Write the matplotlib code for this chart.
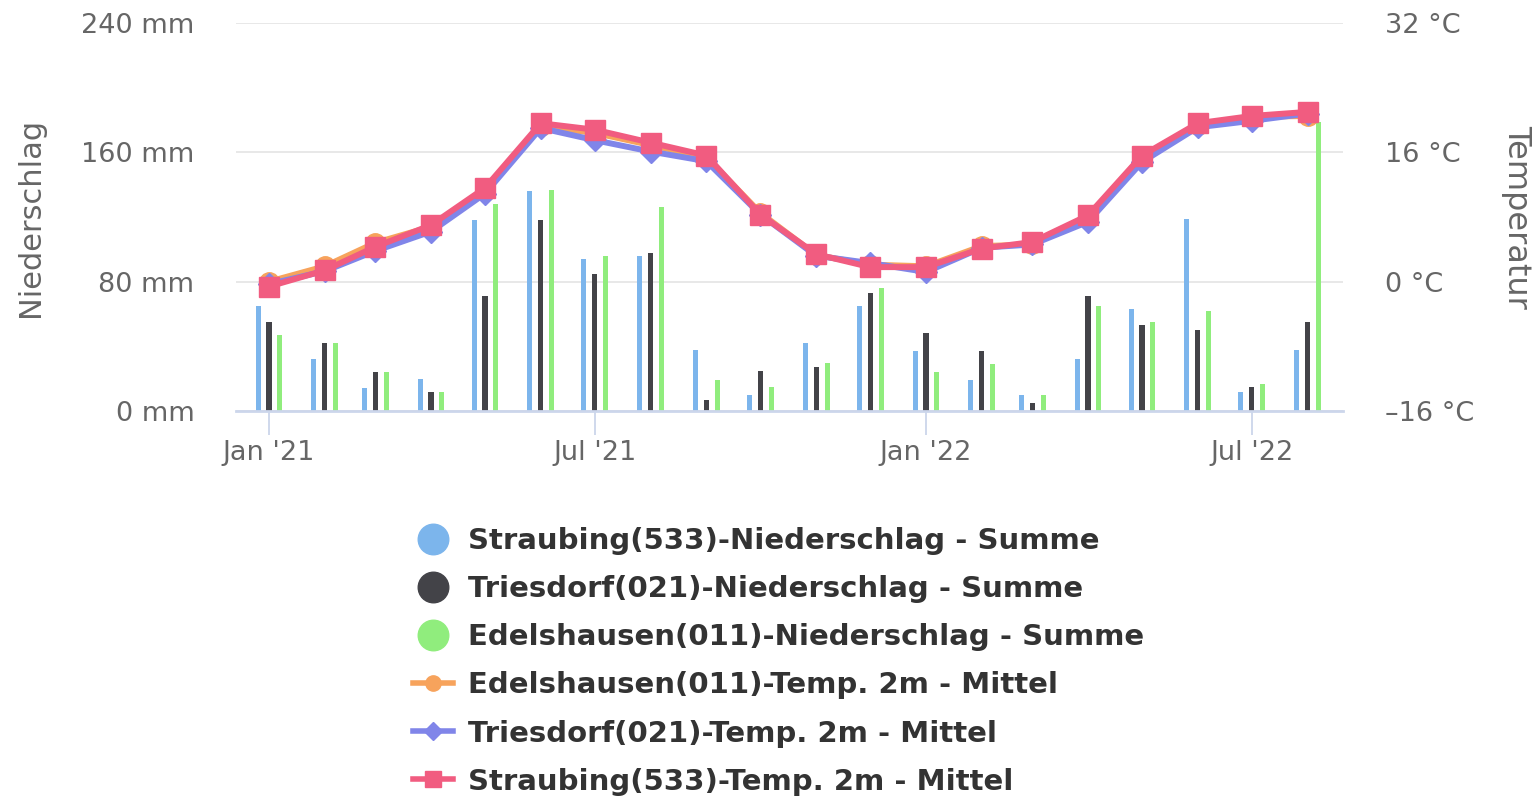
import matplotlib
matplotlib.use("Agg")
import matplotlib.pyplot as plt
import matplotlib.dates as mdates
from matplotlib.lines import Line2D
from matplotlib.ticker import FixedLocator, FuncFormatter
import pandas as pd

# monthly values, Jan 2021 - Aug 2022
months = pd.date_range("2021-01-01", periods=20, freq="MS")

rain_straubing = [65, 32, 14, 20, 118, 136, 94, 96, 38, 10, 42, 65, 37, 19, 10, 32, 63, 119, 12, 38]
rain_triesdorf = [55, 42, 24, 12, 71, 118, 85, 98, 7, 25, 27, 73, 48, 37, 5, 71, 53, 50, 15, 55]
rain_edelshausen = [47, 42, 24, 12, 128, 137, 96, 126, 19, 15, 30, 76, 24, 29, 10, 65, 55, 62, 17, 179]

temp_edelshausen = [0.0, 1.9, 4.8, 6.8, 11.2, 19.2, 18.4, 16.9, 15.4, 8.5, 3.3, 2.1, 1.9, 4.4, 4.6, 8.0, 15.5, 19.4, 20.4, 20.5]
temp_triesdorf = [-0.3, 1.3, 3.8, 6.2, 10.9, 19.0, 17.5, 16.1, 14.9, 8.3, 3.2, 2.3, 1.2, 4.2, 4.6, 7.4, 14.8, 19.1, 19.9, 20.8]
temp_straubing = [-0.6, 1.4, 4.3, 7.0, 11.6, 19.6, 18.8, 17.2, 15.6, 8.3, 3.4, 1.8, 1.8, 4.1, 4.9, 8.2, 15.6, 19.6, 20.5, 21.0]

labels = [
    "Straubing(533)-Niederschlag - Summe",
    "Triesdorf(021)-Niederschlag - Summe",
    "Edelshausen(011)-Niederschlag - Summe",
    "Edelshausen(011)-Temp. 2m - Mittel",
    "Triesdorf(021)-Temp. 2m - Mittel",
    "Straubing(533)-Temp. 2m - Mittel",
]
c_blue, c_black, c_green = "#7cb5ec", "#434348", "#90ed7d"
c_orange, c_purple, c_pink = "#f7a35c", "#8085e9", "#f15c80"

TXT = "#666666"
W, H = 1534, 797
fig = plt.figure(figsize=(W / 100, H / 100), dpi=100)
ax = fig.add_axes([236 / W, 1 - 411 / H, (1343 - 236) / W, (411 - 23) / H])
ax2 = ax.twinx()

# bars
off = pd.Timedelta(days=6.1)
bw = 2.8
ax.bar(months - off, rain_straubing, width=bw, color=c_blue, zorder=2)
ax.bar(months, rain_triesdorf, width=bw, color=c_black, zorder=2)
ax.bar(months + off, rain_edelshausen, width=bw, color=c_green, zorder=2)

# temperature lines
ax2.plot(months, temp_edelshausen, color=c_orange, lw=4.3, marker="o", ms=14, zorder=3)
ax2.plot(months, temp_triesdorf, color=c_purple, lw=4.3, marker="D", ms=11, zorder=4)
ax2.plot(months, temp_straubing, color=c_pink, lw=4.3, marker="s", ms=15, zorder=5)

ax.set_xlim(pd.Timestamp("2020-12-13 16:00"), pd.Timestamp("2022-08-20 16:00"))
ax.set_ylim(0, 240)
ax2.set_ylim(-16, 32)

ax.yaxis.set_major_locator(FixedLocator([0, 80, 160, 240]))
ax.yaxis.set_major_formatter(FuncFormatter(lambda v, p: f"{v:g} mm"))
ax2.yaxis.set_major_locator(FixedLocator([-16, 0, 16, 32]))
ax2.yaxis.set_major_formatter(FuncFormatter(lambda v, p: f"{v:g} °C".replace("-", "\u2013")))

xt = pd.to_datetime(["2021-01-01", "2021-07-01", "2022-01-01", "2022-07-01"])
ax.set_xticks(xt)
ax.xaxis.set_major_formatter(mdates.DateFormatter("%b '%y"))

ax.grid(axis="y", color="#e6e6e6", lw=1.3, zorder=0)
ax.set_axisbelow(True)
for a in (ax, ax2):
    for s in a.spines.values():
        s.set_visible(False)
ax.spines["bottom"].set_visible(True)
ax.spines["bottom"].set_color("#ccd6eb")
ax.spines["bottom"].set_linewidth(2)

ax.tick_params(axis="x", colors="#ccd6eb", length=17, width=1.3, pad=4, labelsize=19.5, labelcolor=TXT)
ax.tick_params(axis="y", length=0, pad=30, labelsize=19.5, labelcolor=TXT)
ax2.tick_params(axis="y", length=0, pad=30, labelsize=19.5, labelcolor=TXT)

ax.set_ylabel("Niederschlag", fontsize=22, color=TXT, labelpad=26)
ax2.set_ylabel("Temperatur", fontsize=23, color=TXT, rotation=270, labelpad=42)

handles = [
    Line2D([], [], ls="none", marker="o", ms=22, color=c_blue),
    Line2D([], [], ls="none", marker="o", ms=22, color=c_black),
    Line2D([], [], ls="none", marker="o", ms=22, color=c_green),
    Line2D([], [], lw=4, marker="o", ms=11, color=c_orange),
    Line2D([], [], lw=4, marker="D", ms=9, color=c_purple),
    Line2D([], [], lw=4, marker="s", ms=12, color=c_pink),
]
fig.legend(handles, labels, loc="upper left", bbox_to_anchor=(413 / W, 1 - 527 / H),
           frameon=False, borderpad=0, borderaxespad=0, handlelength=1.37,
           handletextpad=0.51, labelspacing=0.69,
           prop={"size": 21, "weight": "bold"}, labelcolor="#333333")

fig.savefig("out.png", dpi=100)
